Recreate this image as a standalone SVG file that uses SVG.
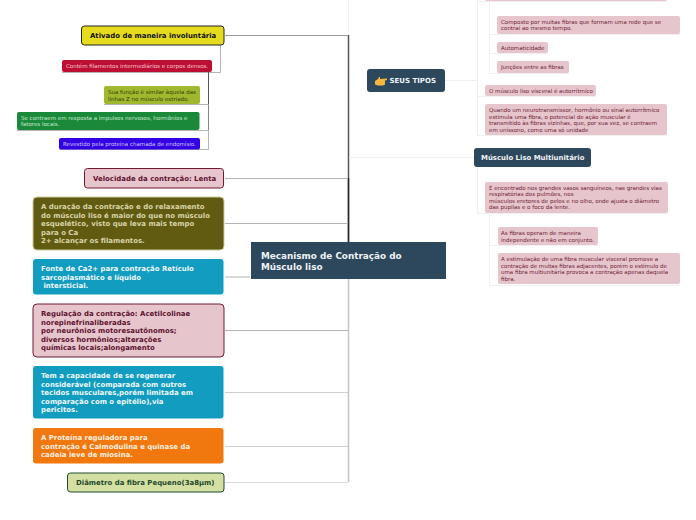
<svg xmlns="http://www.w3.org/2000/svg" width="696" height="520" viewBox="0 0 696 520">
<style>
text{font-family:"DejaVu Sans",Verdana,sans-serif}
.b{font-weight:700;font-size:6.950px}
.s{font-size:5.500px;fill:#6e1a36}
.t{font-size:5.500px}
.p{fill:#e6c6cc}
.d{fill:#2d485c}
.l{fill:none;stroke:#b4b4b4;stroke-width:1}
.f{fill:none;stroke:#f0f0f0;stroke-width:1}
</style>
<rect width="696" height="520" fill="#fff"/>
<g id="connectors">
<path d="M348.500 0V35" class="f"/>
<path d="M348.500 35V178" fill="none" stroke="#555" stroke-width="1.500"/>
<path d="M348.500 178V242" fill="none" stroke="#2a2a2a" stroke-width="1.800"/>
<path d="M225 35.500H348" fill="none" stroke="#999"/>
<path d="M225 178.500H348M225 223.500H348M225 277H250M225 330.500H348" class="l"/>
<path d="M225 392.500H348M225 446.500H348" fill="none" stroke="#cfcfcf"/>
<path d="M225 482.500H348" fill="none" stroke="#dedede"/>
<path d="M348.500 279V482" fill="none" stroke="#c4c4c4" stroke-width="1.500"/>
<path d="M220.500 45V72.500H62" class="l"/>
<path d="M208.500 72V104" fill="none" stroke="#555"/>
<path d="M208.500 104V130" fill="none" stroke="#888"/>
<path d="M208.500 104.500H104M208.500 130.500H17M208.500 130V149.500H59" class="l"/>
<path d="M349 157.500H474M445 80.500H477M477.500 0V135.500H667M477.500 96.500H596M489.500 0V73.500H569M489.500 53.500H548M489.500 34.500H680M477.500 1.500H667" class="f"/>
<path d="M477.500 167V213.500H668M489.500 213V285.500H680M489.500 245.500H598" class="f"/>
</g>
<g id="n-ativado"><rect x="81.500" y="26" width="142.500" height="19" rx="3" fill="#e6dc1e" stroke="#222" stroke-width="1"/><text x="90" y="38" class="b" fill="#111">Ativado de maneira involuntária</text></g>
<g id="n-filamentos"><rect x="62" y="60" width="150" height="12" rx="2" fill="#bd0f34"/><text x="66" y="68" class="t" fill="#f4c8d0">Contém filamentos intermediários e corpos densos.</text></g>
<g id="n-funcao"><rect x="104" y="86" width="96" height="18" rx="2" fill="#a0b82e"/><text class="t" fill="#33400a"><tspan x="108" y="94">Sua função é similar àquela das</tspan><tspan x="108" y="100.500">linhas Z no músculo estriado.</tspan></text></g>
<g id="n-contraem"><rect x="17" y="112" width="182.500" height="18" rx="2" fill="#1a8a3a"/><text class="t" fill="#c8e8d0"><tspan x="21" y="120">Se contraem em resposta a impulsos nervosos, hormônios e</tspan><tspan x="21" y="126">fatores locais.</tspan></text></g>
<g id="n-revestido"><rect x="59" y="138" width="141" height="11.500" rx="2" fill="#3300e6"/><text x="63" y="146" class="t" fill="#d0c8f8">Revestido pela proteína chamada de endomísio.</text></g>
<g id="n-velocidade"><rect x="84.500" y="168.500" width="139" height="19.500" rx="3" class="p" stroke="#6e1a36"/><text x="93" y="181" class="b" fill="#5e1230">Velocidade da contração: Lenta</text></g>
<g id="n-duracao"><rect x="33" y="197" width="191" height="53" rx="4" fill="#615b12" stroke="#cfcb98"/><text class="b" fill="#d8d4a8"><tspan x="41" y="209">A duração da contração e do relaxamento</tspan><tspan x="41" y="218">do músculo liso é maior do que no músculo</tspan><tspan x="41" y="226">esquelético, visto que leva mais tempo</tspan><tspan x="41" y="235">para o Ca</tspan><tspan x="41" y="243">2+ alcançar os filamentos.</tspan></text></g>
<g id="n-fonte"><rect x="33" y="259" width="190.500" height="35.500" rx="3" fill="#119cc0"/><text class="b" fill="#f0f8fa"><tspan x="41" y="271">Fonte de Ca2+ para contração Retículo</tspan><tspan x="41" y="280">sarcoplasmático e líquido</tspan><tspan x="41" y="288"> intersticial.</tspan></text></g>
<g id="n-regulacao"><rect x="33" y="304" width="191" height="53" rx="4" class="p" stroke="#6e1a36"/><text class="b" fill="#5e1230"><tspan x="41" y="316">Regulação da contração: Acetilcolinae</tspan><tspan x="41" y="325">norepinefrinaliberadas</tspan><tspan x="41" y="333">por neurônios motoresautônomos;</tspan><tspan x="41" y="342">diversos hormônios;alterações</tspan><tspan x="41" y="350">químicas locais;alongamento</tspan></text></g>
<g id="n-regenerar"><rect x="33" y="366" width="190.500" height="52.500" rx="3" fill="#119cc0"/><text class="b" fill="#f0f8fa"><tspan x="41" y="378">Tem a capacidade de se regenerar</tspan><tspan x="41" y="387">considerável (comparada com outros</tspan><tspan x="41" y="395">tecidos musculares,porém limitada em</tspan><tspan x="41" y="404">comparação com o epitélio),via</tspan><tspan x="41" y="412">pericitos.</tspan></text></g>
<g id="n-proteina"><rect x="33" y="428" width="190.500" height="35.500" rx="3" fill="#f0780e"/><text class="b" fill="#fdf0e0"><tspan x="41" y="440">A Proteína reguladora para</tspan><tspan x="41" y="449">contração é Calmodulina e quinase da</tspan><tspan x="41" y="457">cadeia leve de miosina.</tspan></text></g>
<g id="n-diametro"><rect x="67.500" y="473" width="156.500" height="19" rx="3" fill="#d4dfa4" stroke="#1e4a2a"/><text x="76" y="485" class="b" fill="#1e4a2a">Diâmetro da fibra Pequeno(3a8µm)</text></g>
<g id="n-central"><rect x="251" y="242" width="195" height="37" class="d"/><text font-size="8.850" font-weight="700" fill="#eef2f4"><tspan x="261" y="259">Mecanismo de Contração do</tspan><tspan x="261" y="270">Músculo liso</tspan></text></g>
<g id="n-tipos"><rect x="367" y="69" width="78" height="23" rx="3" class="d"/><path d="M375 81l3-2 1-2 1 0 0 2 7-.500 0 1.500-2 .500 0 4-2 1-5 0-3-1z" fill="#f5b83d"/><text x="389.500" y="83" font-size="7" font-weight="700" fill="#f0f4f6">SEUS TIPOS</text></g>
<g id="n-topo"><rect x="485" y="-6" width="182" height="7" rx="2" class="p"/></g>
<g id="n-composto"><rect x="497" y="16" width="183" height="18" rx="2" class="p"/><text class="s"><tspan x="501" y="24">Composto por muitas fibras que formam uma rede que se</tspan><tspan x="501" y="30">contrai ao mesmo tempo.</tspan></text></g>
<g id="n-auto"><rect x="497" y="42" width="51" height="11" rx="2" class="p"/><text x="501" y="50" class="s">Automaticidade</text></g>
<g id="n-juncoes"><rect x="497" y="61" width="72" height="12" rx="2" class="p"/><text x="501" y="69" class="s">Junções entre as fibras</text></g>
<g id="n-visceral"><rect x="485" y="85" width="111" height="11" rx="2" class="p"/><text x="489" y="93" class="s">O músculo liso visceral é autorrítmico</text></g>
<g id="n-quando"><rect x="485" y="104" width="182" height="31" rx="2" class="p"/><text class="s"><tspan x="489" y="112">Quando um neurotransmissor, hormônio ou sinal autorrítmico</tspan><tspan x="489" y="119">estimula uma fibra, o potencial de ação muscular é</tspan><tspan x="489" y="125">transmitido às fibras vizinhas, que, por sua vez, se contraem</tspan><tspan x="489" y="132">em uníssono, como uma só unidade</tspan></text></g>
<g id="n-multi"><rect x="474" y="148" width="117" height="19" rx="3" class="d"/><text x="481" y="160" font-size="6.950" font-weight="700" fill="#f0f4f6">Músculo Liso Multiunitário</text></g>
<g id="n-encontrado"><rect x="485" y="182" width="183" height="31" rx="2" class="p"/><text class="s"><tspan x="489" y="190">É encontrado nos grandes vasos sanguíneos, nas grandes vias</tspan><tspan x="489" y="196">respiratórias dos pulmões, nos</tspan><tspan x="489" y="203">músculos eretores de pelos e no olho, onde ajusta o diâmetro</tspan><tspan x="489" y="209">das pupilas e o foco da lente.</tspan></text></g>
<g id="n-operam"><rect x="498" y="227" width="100" height="18" rx="2" class="p"/><text class="s"><tspan x="501" y="235">As fibras operam de maneira</tspan><tspan x="501" y="242">independente e não em conjunto.</tspan></text></g>
<g id="n-estimulacao"><rect x="498" y="253" width="182" height="31" rx="2" class="p"/><text class="s"><tspan x="501" y="261">A estimulação de uma fibra muscular visceral promove a</tspan><tspan x="501" y="268">contração de muitas fibras adjacentes, porém o estímulo de</tspan><tspan x="501" y="274">uma fibra multiunitária provoca a contração apenas daquela</tspan><tspan x="501" y="281">fibra.</tspan></text></g>
</svg>
